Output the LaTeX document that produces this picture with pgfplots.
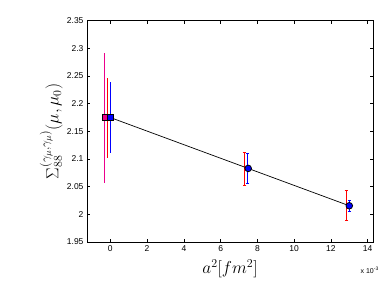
\documentclass[border=0pt]{standalone}
\usepackage{fontspec}
\usepackage{pgfplots}
\pgfplotsset{compat=1.18}
\newfontfamily\helv{Liberation Sans}
\begin{document}
\begin{tikzpicture}
\begin{axis}[
  at={(0,0)}, anchor=south west,
  scale only axis, width=286pt, height=221.3pt,
  xmin=-1.27, xmax=14.29, ymin=1.95, ymax=2.35,
  xtick={0,2,...,14},
  ytick={1.95,2,2.05,2.1,2.15,2.2,2.25,2.3,2.35},
  tick align=inside, major tick length=3pt,
  tick label style={font=\helv\fontsize{8.5}{10}\selectfont},
  /pgf/number format/assume math mode=true,
  axis line style={line width=0.5pt},
  every tick/.style={black, line width=0.5pt},
  xlabel={$a^2[fm^2]$},
  xlabel style={font=\fontsize{17}{19}\selectfont, yshift=-1pt},
  clip=false,
]
% error bars
\addplot[magenta, mark=none, draw=none,
  error bars/.cd, y dir=both, y explicit, error mark=none,
  error bar style={magenta, line width=1.3pt}]
  coordinates {(-0.33,2.1745) +- (0,0.1175)};
\addplot[red, mark=none, draw=none,
  error bars/.cd, y dir=both, y explicit, error mark=none,
  error bar style={red, line width=1.3pt}]
  coordinates {(-0.16,2.174) +- (0,0.073)};
\addplot[blue, mark=none, draw=none,
  error bars/.cd, y dir=both, y explicit, error mark=none,
  error bar style={blue, line width=1.3pt}]
  coordinates {(0.02,2.175) +- (0,0.064)};
\addplot[red, mark=none, draw=none,
  error bars/.cd, y dir=both, y explicit,
  error bar style={red, line width=1.3pt},
  error mark options={rotate=90, mark size=1.8pt, red, line width=0.8pt}]
  coordinates {(7.3,2.0826) +- (0,0.030) (12.85,2.0155) +- (0,0.027)};
\addplot[blue, mark=none, draw=none,
  error bars/.cd, y dir=both, y explicit,
  error bar style={blue, line width=1.3pt},
  error mark options={rotate=90, mark size=1.4pt, blue, line width=0.8pt}]
  coordinates {(7.48,2.083) +- (0,0.027) (13.03,2.0155) +- (0,0.0095)};
% fit line
\addplot[black, line width=0.7pt, mark=none] coordinates {(0,2.175) (13.0,2.0155)};
% markers
\addplot[only marks, mark=square*, mark size=2.8pt, mark options={fill=magenta, draw=black, line width=1pt}]
  coordinates {(-0.3,2.175)};
\addplot[only marks, mark=square*, mark size=2.8pt, mark options={fill=blue, draw=black, line width=1pt}]
  coordinates {(0,2.175)};
\addplot[only marks, mark=*, mark size=3.3pt, mark options={fill=blue, draw=black, line width=0.8pt}]
  coordinates {(7.5,2.083) (13.0,2.0155)};
\node[anchor=north east, inner sep=0pt, font=\helv\fontsize{7}{8}\selectfont]
  at ([xshift=6pt,yshift=-25pt]rel axis cs:1,0) {x 10\textsuperscript{-3}};
\node[rotate=90, anchor=south, inner sep=0pt, font=\fontsize{18}{20}\selectfont]
  at ([xshift=-24pt]rel axis cs:0,0.5) {$\Sigma_{88}^{(\gamma_\mu,\gamma_\mu)}(\mu,\mu_0)$};
\end{axis}
\path[use as bounding box] (-87pt,-45pt) rectangle (295pt,242pt);
\end{tikzpicture}
\end{document}
